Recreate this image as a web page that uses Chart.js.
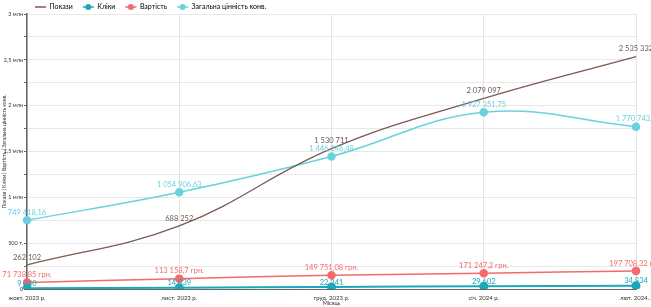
<!DOCTYPE html>
<html>
<head>
<meta charset="utf-8">
<script src="https://cdn.jsdelivr.net/npm/chart.js@4.4.1/dist/chart.umd.min.js"></script>
<style>
  html, body { margin: 0; padding: 0; background: #fff; }
  #wrap { width: 651px; height: 307px; }
</style>
</head>
<body>
<div id="wrap"><canvas id="c"></canvas></div>
<script>
const MONTHS = ['жовт. 2023 р.', 'лист. 2023 р.', 'груд. 2023 р.', 'січ. 2024 р.', 'лют. 2024...'];

const IMPRESSIONS = [262102, 688252, 1530711, 2079097, 2535332];
const CLICKS = [9240, 14039, 22241, 29602, 34834];
const COST = [71738.85, 113158.7, 149751.08, 171247.2, 197708.32];
const CONV_VALUE = [749418.16, 1054906.63, 1446146.48, 1927351.75, 1770743.4];

const Y_TICKS = { 0: '0', 500000: '500 т.', 1000000: '1 млн', 1500000: '1,5 млн', 2000000: '2 млн', 2500000: '2,5 млн', 3000000: '3 млн' };

const COL = {
  imp: '#7b5a50', impLabel: '#6a5852',
  clk: '#1aa8bb',
  cost: '#f46a6a',
  conv: '#69d2df',
};

Chart.defaults.font.family = "Lato, sans-serif";
Chart.defaults.color = '#333';

function fmt(v) {
  const [i, d] = String(v).split('.');
  return i.replace(/\B(?=(\d{3})+(?!\d))/g, ' ') + (d ? ',' + d : '');
}

// labels over points, like the datalabels plugin would do
const valueLabels = {
  id: 'valueLabels',
  afterDatasetsDraw(chart) {
    const ctx = chart.ctx;
    ctx.save();
    ctx.font = "7.5px Lato, sans-serif";
    ctx.textAlign = 'center';
    ctx.textBaseline = 'bottom';
    chart.data.datasets.forEach((ds, i) => {
      const meta = chart.getDatasetMeta(i);
      ctx.fillStyle = ds.labelColor || ds.borderColor;
      meta.data.forEach((pt, j) => {
        ctx.fillText(fmt(ds.data[j]) + (ds.suffix || ''), pt.x, pt.y - (ds.labelOffset ?? 4));
      });
    });
    ctx.restore();
  },
};

// move legend to the left and draw the little dots on the legend lines
const legendTweak = {
  id: 'legendTweak',
  afterLayout(chart) {
    chart.legend.left += 25;
    chart.legend.top -= 6.5;
  },
  afterDraw(chart) {
    const ctx = chart.ctx;
    const lg = chart.legend;
    lg.legendHitBoxes.forEach((hb, i) => {
      const ds = chart.data.datasets[i];
      if (!ds.pointRadius) return;
      ctx.save();
      ctx.fillStyle = ds.borderColor;
      ctx.beginPath();
      ctx.arc(hb.left + 5.5, hb.top + hb.height / 2, 3, 0, Math.PI * 2);
      ctx.fill();
      ctx.restore();
    });
  },
};

new Chart(document.getElementById('c'), {
  type: 'line',
  data: {
    labels: MONTHS,
    datasets: [
      {
        label: 'Покази',
        data: IMPRESSIONS,
        borderColor: COL.imp,
        backgroundColor: COL.imp,
        labelColor: COL.impLabel,
        borderWidth: 1.3,
        pointRadius: 0,
        tension: 0.4,
      },
      {
        label: 'Кліки',
        data: CLICKS,
        borderColor: COL.clk,
        backgroundColor: COL.clk,
        borderWidth: 2,
        pointRadius: 3.5,
        labelOffset: 1,
        tension: 0.4,
      },
      {
        label: 'Вартість',
        data: COST,
        borderColor: COL.cost,
        backgroundColor: COL.cost,
        borderWidth: 1.5,
        pointRadius: 3.5,
        suffix: ' грн.',
        tension: 0.4,
      },
      {
        label: 'Загальна цінність конв.',
        data: CONV_VALUE,
        borderColor: COL.conv,
        backgroundColor: COL.conv,
        borderWidth: 1.5,
        pointRadius: 3.5,
        tension: 0.4,
      },
    ],
  },
  options: {
    responsive: true,
    maintainAspectRatio: false,
    animation: false,
    layout: { padding: { right: 15 } },
    plugins: {
      legend: {
        position: 'top',
        align: 'start',
        maxHeight: 14,
        labels: {
          boxWidth: 11,
          boxHeight: 1.5,
          padding: 10,
          color: '#333',
          font: { size: 7 },
          generateLabels: (chart) => chart.data.datasets.map((ds, i) => ({
            text: ds.label,
            fillStyle: ds.borderColor,
            strokeStyle: ds.borderColor,
            lineWidth: 0,
            datasetIndex: i,
          })),
        },
      },
      tooltip: { enabled: false },
    },
    scales: {
      x: {
        offset: false,
        grid: { color: '#e4e4e4', drawTicks: false },
        border: { color: '#666', width: 1 },
        ticks: { font: { size: 6 }, color: '#333', padding: 5, maxRotation: 0, autoSkip: false },
        title: { display: true, text: 'Місяць', font: { size: 5.5 }, color: '#333', padding: 0 },
        afterFit: (s) => { s.height = 18; s.paddingLeft = 0; s.paddingRight = 0; },
      },
      y: {
        min: 0,
        max: 3000000,
        grid: { color: '#e8e8e8', tickLength: 3, tickColor: '#666' },
        border: { color: '#666', width: 1.5 },
        ticks: {
          stepSize: 250000,
          font: { size: 5.5 },
          color: '#333',
          padding: 1,
          autoSkip: false,
          callback: (v) => Y_TICKS[v] ?? '',
        },
        title: {
          display: true,
          text: 'Покази | Кліки | Вартість | Загальна цінність конв.',
          font: { size: 5 },
          color: '#333',
          padding: 1,
        },
        afterFit: (s) => { s.width = 27; },
      },
    },
  },
  plugins: [valueLabels, legendTweak],
});
</script>
</body>
</html>
